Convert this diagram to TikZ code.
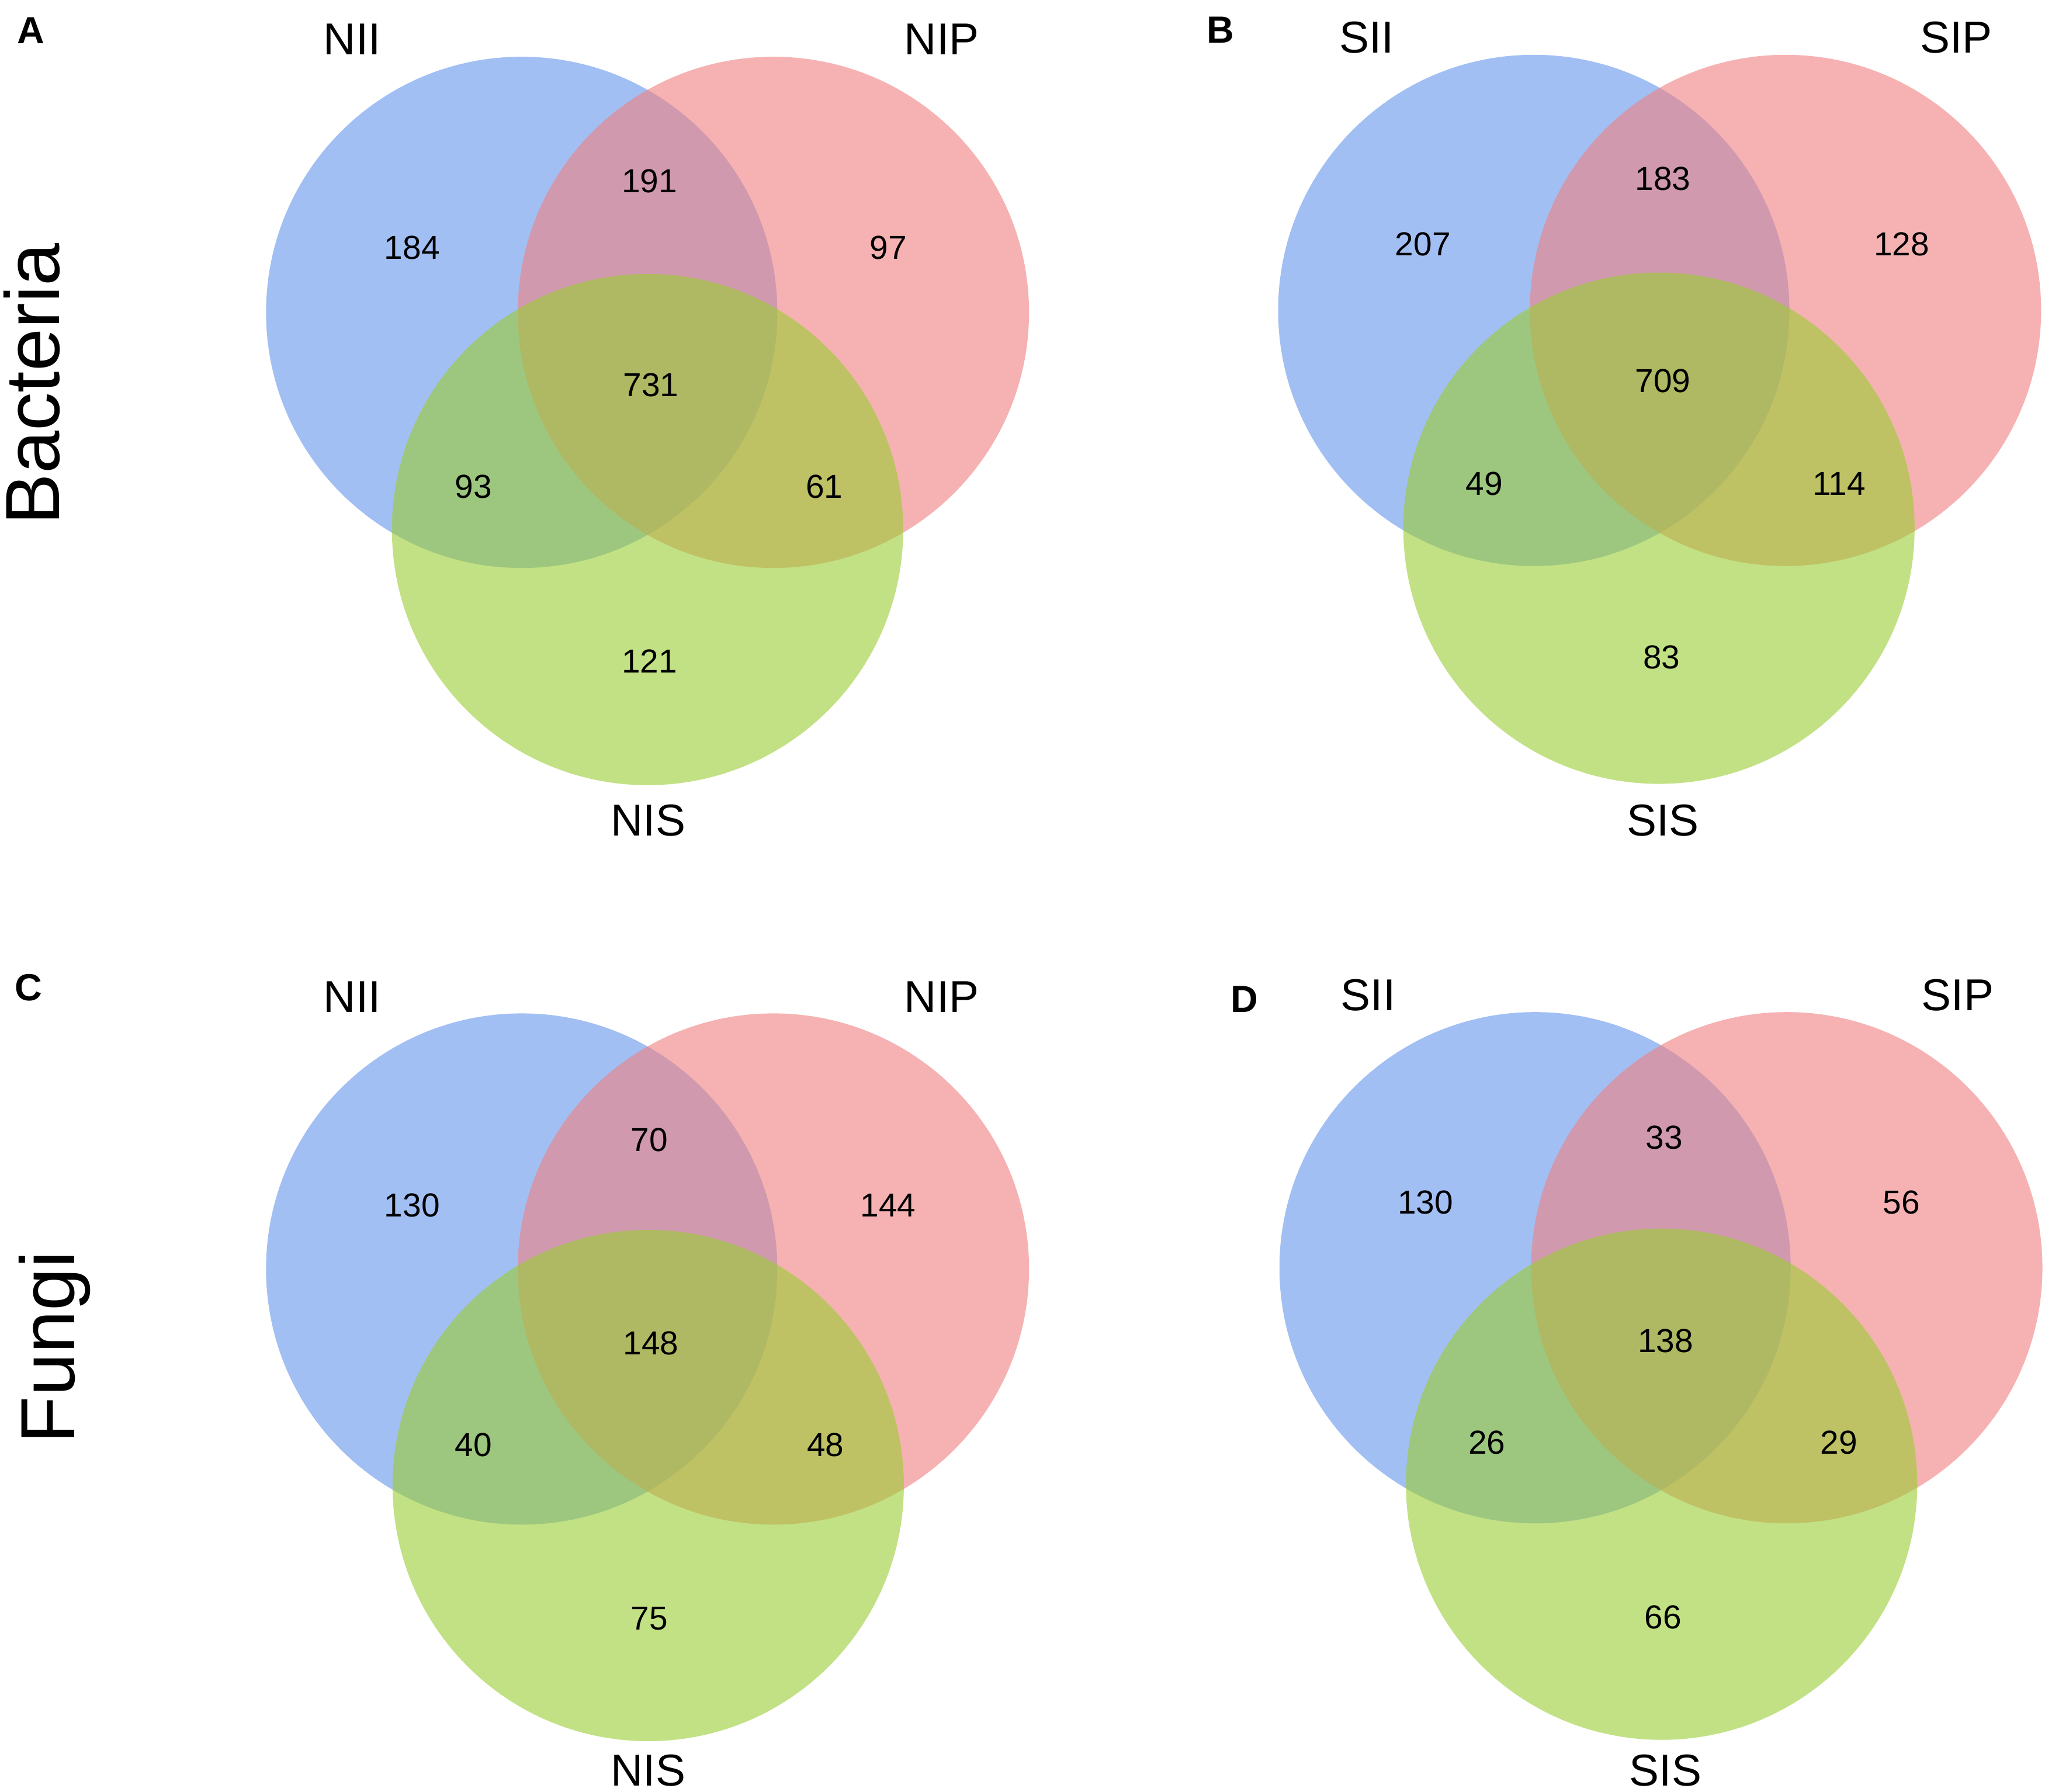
\documentclass[tikz,border=0pt]{standalone}
\usepackage{fontspec}
\setmainfont{Liberation Sans}
\definecolor{vblue}{RGB}{100,149,237}
\definecolor{vred}{RGB}{240,128,128}
\definecolor{vgreen}{RGB}{154,205,50}
\tikzset{
  setblue/.style={fill=vblue, fill opacity=0.6, draw=none},
  setred/.style={fill=vred, fill opacity=0.6, draw=none},
  setgreen/.style={fill=vgreen, fill opacity=0.6, draw=none},
  num/.style={font=\fontsize{14.5}{17}\selectfont, inner sep=0pt},
  lab/.style={font=\fontsize{19.5}{23}\selectfont, inner sep=0pt, anchor=base},
  panel/.style={font=\bfseries\fontsize{16.5}{20}\selectfont, inner sep=0pt},
  side/.style={font=\fontsize{33.5}{40}\selectfont, inner sep=0pt, rotate=90, anchor=base},
}
\begin{document}
\begin{tikzpicture}[x=0.02cm,y=-0.02cm]
\useasboundingbox (0,0) rectangle (1568,1374);
\fill[white] (0,0) rectangle (1568,1374);

% Panel A
\fill[setblue]  (400,239.5) circle[radius=196];
\fill[setred]   (593,239.5) circle[radius=196];
\fill[setgreen] (496.5,406) circle[radius=196];
% Panel B
\fill[setblue]  (1176,238) circle[radius=196];
\fill[setred]   (1369,238) circle[radius=196];
\fill[setgreen] (1272,405) circle[radius=196];
% Panel C
\fill[setblue]  (400,973) circle[radius=196];
\fill[setred]   (593,973) circle[radius=196];
\fill[setgreen] (497,1139) circle[radius=196];
% Panel D
\fill[setblue]  (1177,972) circle[radius=196];
\fill[setred]   (1370,972) circle[radius=196];
\fill[setgreen] (1274,1138) circle[radius=196];

% panel letters
\node[panel] (pA) at (23.8,23.5) {A};
\node[panel] (pB) at (936,23) {B};
\node[panel] (pC) at (22,757) {C};
\node[panel] (pD) at (954,766) {D};

% side titles
\node[side] (bact) at (45.5,294.5) {Bacteria};
\node[side] (fung) at (57,1033) {Fungi};

% set labels
\node[lab] (aNII) at (270,41.8) {NII};
\node[lab] (aNIP) at (722,41.8) {NIP};
\node[lab] (aNIS) at (497,641) {NIS};
\node[lab] (bSII) at (1048,40.5) {SII};
\node[lab] (bSIP) at (1500,40.5) {SIP};
\node[lab] (bSIS) at (1275,641) {SIS};
\node[lab] (cNII) at (270,776) {NII};
\node[lab] (cNIP) at (722,776) {NIP};
\node[lab] (cNIS) at (497,1369.5) {NIS};
\node[lab] (dSII) at (1049,775) {SII};
\node[lab] (dSIP) at (1501,775) {SIP};
\node[lab] (dSIS) at (1277,1369.5) {SIS};

% numbers A
\node[num] (a1) at (316,190) {184};
\node[num] (a2) at (498,139) {191};
\node[num] (a3) at (681,190) {97};
\node[num] (a4) at (499,295) {731};
\node[num] (a5) at (363,373) {93};
\node[num] (a6) at (632,373) {61};
\node[num] (a7) at (498,507) {121};
% numbers B
\node[num] (b1) at (1091,187) {207};
\node[num] (b2) at (1275,137) {183};
\node[num] (b3) at (1458,187) {128};
\node[num] (b4) at (1275,292) {709};
\node[num] (b5) at (1138,371) {49};
\node[num] (b6) at (1410,371) {114};
\node[num] (b7) at (1274,504) {83};
% numbers C
\node[num] (c1) at (316,924) {130};
\node[num] (c2) at (498,874) {70};
\node[num] (c3) at (681,924) {144};
\node[num] (c4) at (499,1030) {148};
\node[num] (c5) at (363,1108) {40};
\node[num] (c6) at (633,1108) {48};
\node[num] (c7) at (498,1241) {75};
% numbers D
\node[num] (d1) at (1093,922) {130};
\node[num] (d2) at (1276,872) {33};
\node[num] (d3) at (1458,922) {56};
\node[num] (d4) at (1277,1028) {138};
\node[num] (d5) at (1140,1106) {26};
\node[num] (d6) at (1410,1106) {29};
\node[num] (d7) at (1275,1240) {66};
\end{tikzpicture}
\end{document}
